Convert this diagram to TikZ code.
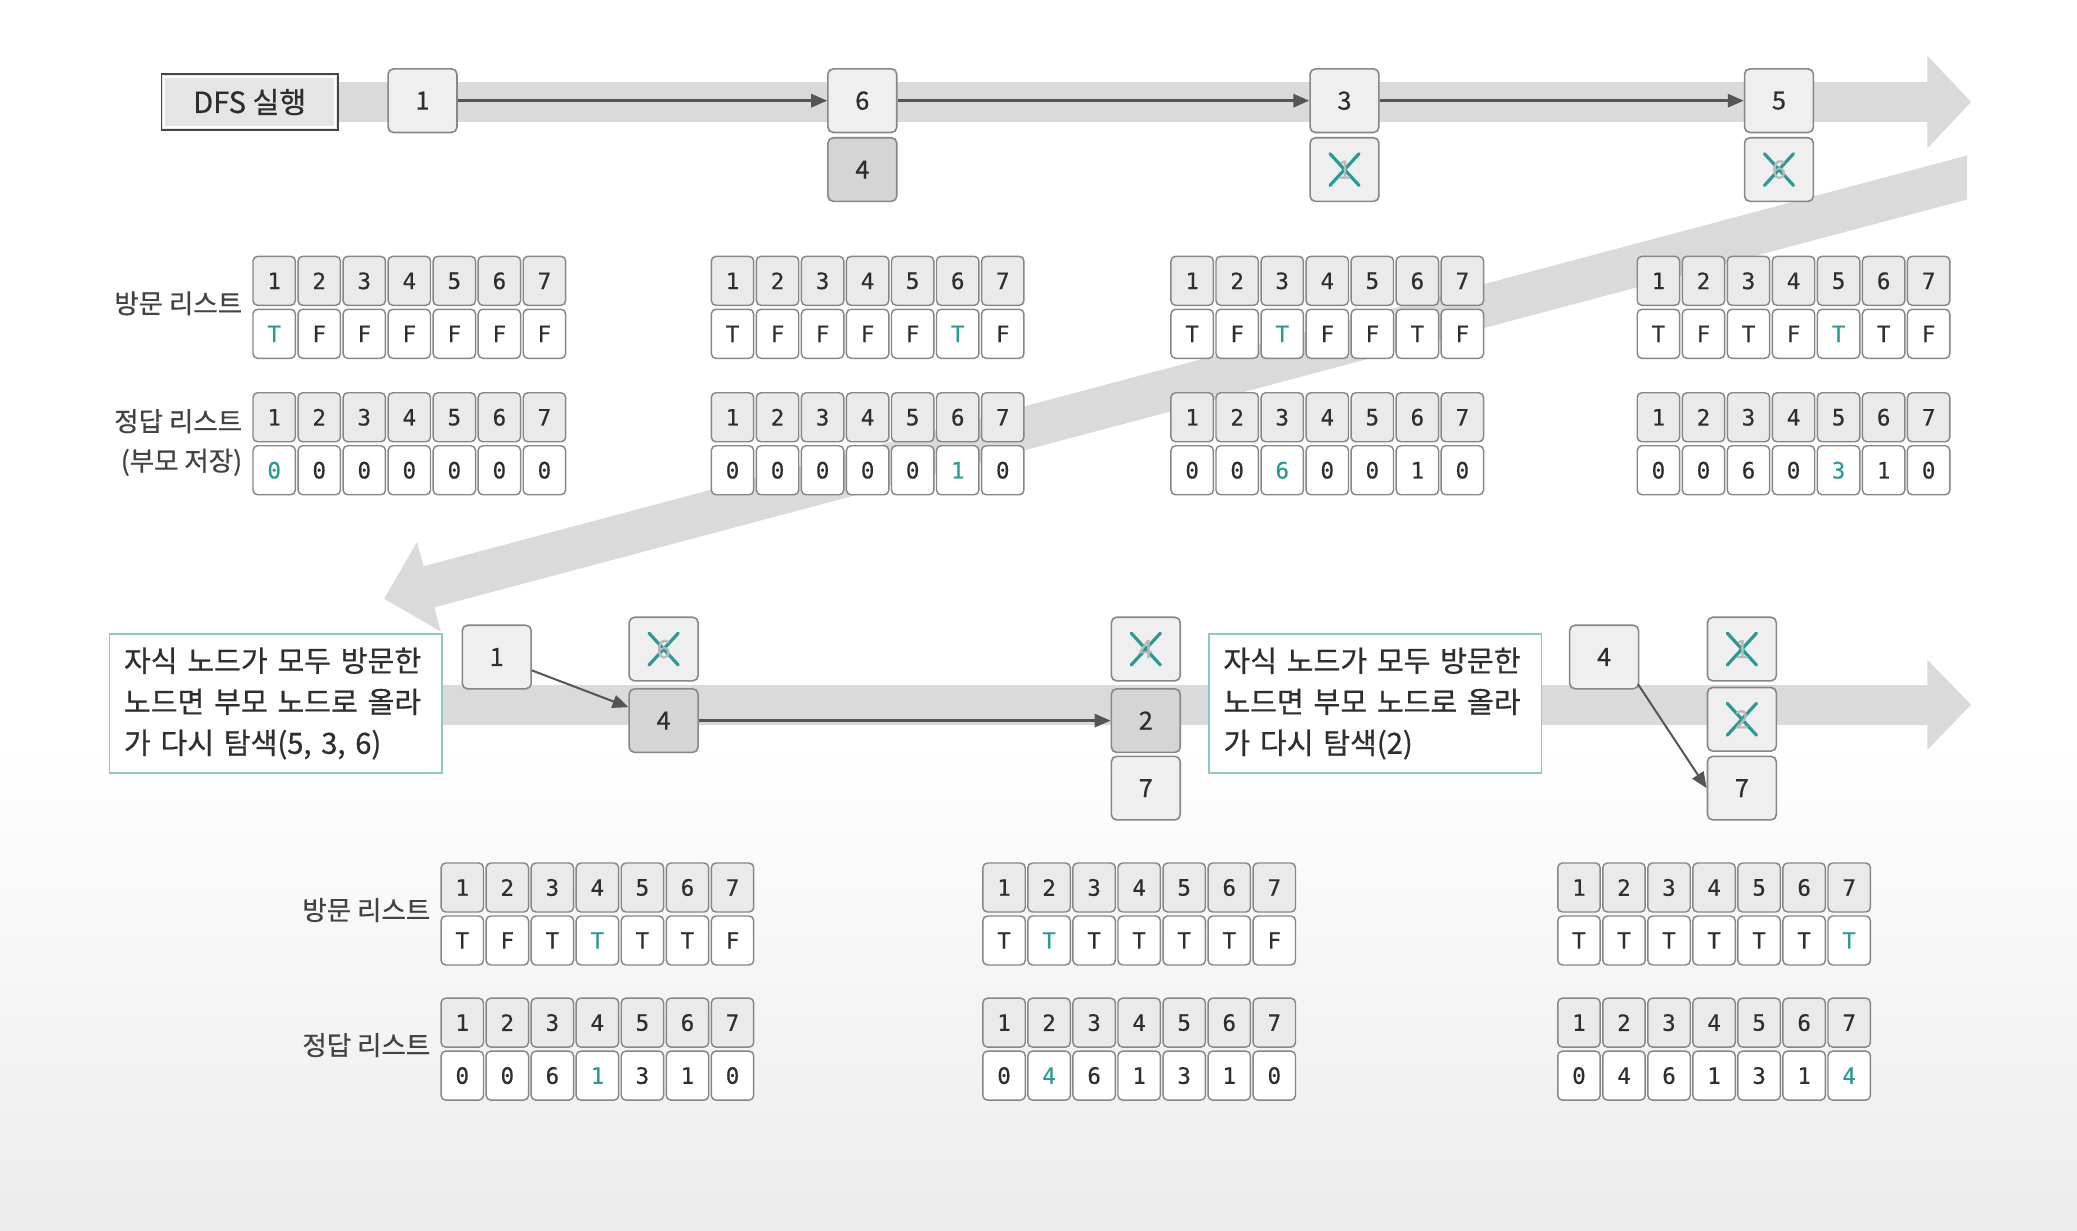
\documentclass[tikz,border=0pt]{standalone}
\usepackage{fontspec}
\setmainfont{Noto Sans CJK KR}
\newfontfamily\krb{Noto Sans CJK KR}[FakeBold=0.6]
\newfontfamily\monofnt{DejaVu Sans Mono}[FakeBold=0.4]
\usetikzlibrary{arrows.meta,calc}
\definecolor{bandc}{HTML}{DADADA}
\definecolor{bgbot}{HTML}{ECECEC}
\definecolor{bordc}{HTML}{878787}
\definecolor{ndfill}{HTML}{EFEFEF}
\definecolor{nddark}{HTML}{D5D5D5}
\definecolor{hfill}{HTML}{EAEAEA}
\definecolor{txtc}{HTML}{2E2E2E}
\definecolor{tealc}{HTML}{2A9A94}
\definecolor{callc}{HTML}{8EC7C3}
\definecolor{arrc}{HTML}{555555}
\tikzset{
  nd/.style={draw=bordc, line width=1.2pt, rounded corners=4pt, fill=ndfill,
    minimum width=52pt, minimum height=48pt, inner sep=0pt, text=txtc,
    font=\krb\fontsize{19}{19}\selectfont},
  nddk/.style={nd, fill=nddark},
  xnd/.style={nd, text=gray!55, path picture={
    \draw[tealc,line width=2.4pt,line cap=round]
      ($(path picture bounding box.center)+(-11pt,-12pt)$) -- ($(path picture bounding box.center)+(11pt,12pt)$)
      ($(path picture bounding box.center)+(-11pt,12pt)$) -- ($(path picture bounding box.center)+(11pt,-12pt)$);}},
  hcell/.style={draw=bordc, line width=1.1pt, rounded corners=3.5pt, fill=hfill,
    minimum width=32pt, minimum height=37pt, inner sep=0pt, text=txtc,
    font=\monofnt\fontsize{17}{17}\selectfont},
  vcell/.style={hcell, fill=white},
  lbl/.style={text=txtc!90, font=\krb\fontsize{20}{26}\selectfont, inner sep=0pt, anchor=east},
  callout/.style={draw=callc, line width=1.2pt, fill=white, anchor=north west,
    minimum width=251pt, minimum height=105pt, text width=229pt, align=left,
    inner xsep=11pt, text=txtc, font=\krb\fontsize{22}{31}\selectfont},
  dfsbox/.style={draw=gray!55!black, line width=1.2pt, fill=gray!20,
    minimum width=133pt, minimum height=42pt, inner sep=0pt, text=txtc,
    font=\krb\fontsize{22}{22}\selectfont},
  arr/.style={draw=arrc, line width=1.8pt, -{Triangle[length=12pt,width=10pt]}}
}
\newcommand\mkrow[5]{%
  \foreach \v [count=\i] in {#4} {
    \pgfmathsetmacro\cx{#2+16+(\i-1)*34}
    \node[hcell] (#1h\i) at (\cx,#3) {\i};
    \ifnum\i=#5\relax\def\cc{tealc}\else\def\cc{txtc}\fi
    \node[vcell,text=\cc] (#1v\i) at (\cx,#3+40) {\v};
  }}
\begin{document}
\begin{tikzpicture}[x=1pt,y=-1pt]
\useasboundingbox (0,0) rectangle (1568,929);
\fill[white] (0,0) rectangle (1568,929);
\shade[top color=white,bottom color=bgbot] (0,560) rectangle (1568,929);

% bands
\fill[bandc] (200,62) rectangle (1456,92);
\fill[bandc] (1455,42) -- (1488,77) -- (1455,112) -- cycle;
\fill[bandc] (1485,117.4) -- (1485,150.6) -- (327.9,458.5) -- (332.8,476.8)
  -- (290,452) -- (314.8,409.2) -- (319.7,427.5) -- cycle;
\fill[bandc] (300,517) rectangle (1456,547);
\fill[bandc] (1455,498) -- (1488,532) -- (1455,566) -- cycle;

% top row
\node[dfsbox] (dfs) at (188.5,77) {DFS 실행};
\draw[white,line width=1.3pt] ([shift={(2.6pt,-2.6pt)}]dfs.north west) rectangle ([shift={(-2.6pt,2.6pt)}]dfs.south east);
\node[nd] (n1) at (319,76) {1};
\node[nd] (n6) at (651,76) {6};
\node[nddk] (n6b) at (651,128) {4};
\node[nd] (n3) at (1015,76) {3};
\node[xnd] (n3x) at (1015,128) {1};
\node[nd] (n5) at (1343,76) {5};
\node[xnd] (n5x) at (1343,128) {6};
\draw[arr] (n1.east) -- (n6.west);
\draw[arr] (n6.east) -- (n3.west);
\draw[arr] (n3.east) -- (n5.west);

% top lists
\node[lbl] (la1) at (183,229) {방문 리스트};
\node[lbl] (la2) at (183,318) {정답 리스트};
\node[lbl] (la3) at (183,349) {(부모 저장)};
\mkrow{ta}{191}{212}{T,F,F,F,F,F,F}{1}
\mkrow{tb}{191}{315}{0,0,0,0,0,0,0}{1}
\mkrow{tc}{537}{212}{T,F,F,F,F,T,F}{6}
\mkrow{td}{537}{315}{0,0,0,0,0,1,0}{6}
\mkrow{te}{884}{212}{T,F,T,F,F,T,F}{3}
\mkrow{tf}{884}{315}{0,0,6,0,0,1,0}{3}
\mkrow{tg}{1236}{212}{T,F,T,F,T,T,F}{5}
\mkrow{th}{1236}{315}{0,0,6,0,3,1,0}{5}

% bottom row
\node[callout] (c1) at (82,478) {자식 노드가 모두 방문한\\노드면 부모 노드로 올라\\가 다시 탐색(5, 3, 6)};
\node[callout] (c2) at (912,478) {자식 노드가 모두 방문한\\노드면 부모 노드로 올라\\가 다시 탐색(2)};
\node[nd] (b1) at (375,496) {1};
\node[xnd] (bx1) at (501,490) {6};
\node[nddk] (b4) at (501,544) {4};
\node[xnd] (bx2) at (865,490) {4};
\node[nddk] (b2) at (865,544) {2};
\node[nd] (b7a) at (865,595) {7};
\node[nd] (b4f) at (1211,496) {4};
\node[xnd] (bx3) at (1315,490) {1};
\node[xnd] (bx4) at (1315,543) {2};
\node[nd] (b7) at (1315,595) {7};
\draw[arr,line width=1.5pt] (b1) -- (b4);
\draw[arr] (b4.east) -- (b2.west);
\draw[arr,line width=1.5pt] ([shift={(-1pt,4pt)}]b4f.south east) -- (b7.west);

% bottom lists
\node[lbl] (lb1) at (325,687) {방문 리스트};
\node[lbl] (lb2) at (325,789) {정답 리스트};
\mkrow{ba}{333}{670}{T,F,T,T,T,T,F}{4}
\mkrow{bb}{333}{772}{0,0,6,1,3,1,0}{4}
\mkrow{bc}{742}{670}{T,T,T,T,T,T,F}{2}
\mkrow{bd}{742}{772}{0,4,6,1,3,1,0}{2}
\mkrow{be}{1176}{670}{T,T,T,T,T,T,T}{7}
\mkrow{bf}{1176}{772}{0,4,6,1,3,1,4}{7}
\end{tikzpicture}
\end{document}
